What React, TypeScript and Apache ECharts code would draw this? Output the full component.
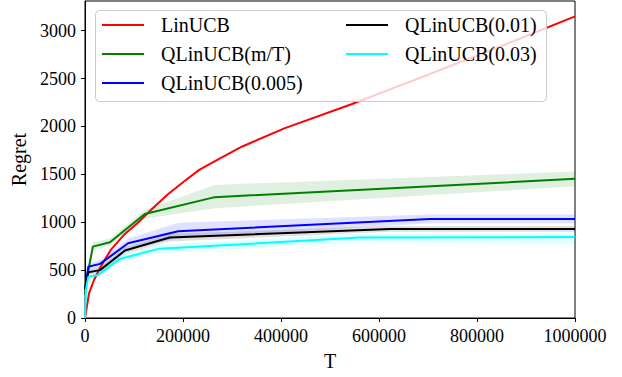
import React, { useEffect, useRef } from "react";
import * as echarts from "echarts";

const FONT = "Liberation Serif";

// LinUCB
const T_RED = [0, 1400, 8200, 18400, 32000, 52500, 79600, 106700, 134000, 168000, 202000, 233000, 270000, 321000, 408000, 541000, 700000, 850000, 1000000];
const LINUCB = [0, 40, 258, 397, 536, 711, 868, 990, 1125, 1286, 1425, 1547, 1652, 1791, 1983, 2227, 2540, 2840, 3150];

// QLinUCB(m/T)
const T_GREEN = [0, 4000, 16000, 51000, 122000, 265000, 1000000];
const QL_MT = [250, 420, 745, 790, 1085, 1262, 1453];
const QL_MT_LO = [230, 390, 710, 755, 1040, 1147, 1375];
const QL_MT_HI = [270, 460, 790, 830, 1130, 1390, 1530];

// QLinUCB(0.005)
const T_BLUE = [0, 6700, 30600, 88000, 190000, 704000, 1000000];
const QL_005 = [300, 536, 565, 780, 905, 1035, 1035];
const QL_005_LO = [280, 500, 525, 730, 830, 990, 990];
const QL_005_HI = [320, 570, 605, 830, 995, 1080, 1080];

// QLinUCB(0.01)
const T_BLACK = [0, 6700, 30600, 81600, 173000, 622000, 1000000];
const QL_01 = [300, 477, 500, 704, 840, 930, 930];
const QL_01_LO = [280, 450, 470, 670, 800, 900, 900];
const QL_01_HI = [320, 505, 530, 740, 880, 960, 960];

// QLinUCB(0.03)
const T_CYAN = [0, 2000, 6700, 27000, 71000, 150000, 561000, 1000000];
const QL_03 = [0, 300, 432, 450, 617, 722, 840, 845];
const QL_03_LO = [0, 280, 400, 420, 580, 680, 790, 770];
const QL_03_HI = [0, 320, 460, 480, 655, 765, 880, 880];

const X_TICKS = [0, 200000, 400000, 600000, 800000, 1000000];
const Y_TICKS = [0, 500, 1000, 1500, 2000, 2500, 3000];

function pairs(xs: number[], ys: number[]) {
  return xs.map((x, i) => [x, ys[i]]);
}

function lineSeries(name: string, xs: number[], ys: number[], color: string, z: number) {
  return {
    name,
    type: "line",
    data: pairs(xs, ys),
    symbol: "none",
    lineStyle: { color, width: 2 },
    itemStyle: { color },
    z,
    silent: true,
  };
}

function bandSeries(xs: number[], lo: number[], hi: number[], color: string, z: number) {
  return {
    type: "custom",
    silent: true,
    z,
    clip: true,
    data: [[xs[0], lo[0]]],
    renderItem: (params: any, api: any) => {
      const pts: number[][] = [];
      for (let i = 0; i < xs.length; i++) pts.push(api.coord([xs[i], hi[i]]));
      for (let i = xs.length - 1; i >= 0; i--) pts.push(api.coord([xs[i], lo[i]]));
      return {
        type: "polygon",
        shape: { points: pts },
        style: { fill: color, opacity: 0.12 },
      };
    },
  };
}

export default function App() {
  const ref = useRef<HTMLDivElement>(null);
  useEffect(() => {
    const chart = echarts.init(ref.current!, null, { renderer: "svg" });
    const legendText = {
      fontFamily: FONT,
      fontSize: 20,
      color: "#000",
      lineHeight: 20,
      padding: [0, 0, 0, 12],
    };
    chart.setOption({
      animation: false,
      grid: {
        left: 85,
        right: 47,
        top: 1,
        bottom: 59,
        show: true,
        borderColor: "#000",
        borderWidth: 1,
        backgroundColor: "transparent",
      },
      xAxis: {
        type: "value",
        min: X_TICKS[0],
        max: X_TICKS[X_TICKS.length - 1],
        interval: X_TICKS[1] - X_TICKS[0],
        name: "T",
        nameLocation: "middle",
        nameGap: 33,
        nameTextStyle: { fontFamily: FONT, fontSize: 20, color: "#000" },
        axisLine: { show: true, lineStyle: { color: "#000", width: 1 } },
        axisTick: { show: true, length: 4, lineStyle: { color: "#000" } },
        splitLine: { show: false },
        axisLabel: {
          fontFamily: FONT,
          fontSize: 18,
          color: "#000",
          margin: 9,
          formatter: (v: number) => String(v),
        },
      },
      yAxis: {
        type: "value",
        min: Y_TICKS[0],
        max: 3310,
        interval: Y_TICKS[1] - Y_TICKS[0],
        name: "Regret",
        nameLocation: "middle",
        nameGap: 55,
        nameTextStyle: { fontFamily: FONT, fontSize: 20, color: "#000" },
        axisLine: { show: true, lineStyle: { color: "#000", width: 1 } },
        axisTick: { show: true, length: 4, lineStyle: { color: "#000" } },
        splitLine: { show: false },
        axisLabel: {
          fontFamily: FONT,
          fontSize: 18,
          color: "#000",
          margin: 9,
          showMaxLabel: false,
          formatter: (v: number) => String(v),
        },
      },
      legend: [
        {
          data: ["LinUCB", "QLinUCB(m/T)", "QLinUCB(0.005)"],
          orient: "vertical",
          left: 102,
          top: 15,
          padding: 0,
          itemGap: 9,
          itemWidth: 42,
          itemHeight: 2,
          icon: "rect",
          selectedMode: false,
          textStyle: legendText,
          z: 20,
        },
        {
          data: ["QLinUCB(0.01)", "QLinUCB(0.03)"],
          orient: "vertical",
          left: 346,
          top: 15,
          padding: 0,
          itemGap: 9,
          itemWidth: 42,
          itemHeight: 2,
          icon: "rect",
          selectedMode: false,
          textStyle: legendText,
          z: 20,
        },
      ],
      graphic: [
        {
          type: "rect",
          shape: { x: 95.5, y: 10.5, width: 451, height: 91, r: 4 },
          style: { fill: "rgba(255,255,255,0.8)", stroke: "#cccccc", lineWidth: 1 },
          z: 10,
          silent: true,
        },
      ],
      series: [
        bandSeries(T_GREEN, QL_MT_LO, QL_MT_HI, "#008000", 1),
        bandSeries(T_BLUE, QL_005_LO, QL_005_HI, "#0000ff", 1),
        bandSeries(T_BLACK, QL_01_LO, QL_01_HI, "#000000", 1),
        bandSeries(T_CYAN, QL_03_LO, QL_03_HI, "#00ffff", 1),
        lineSeries("LinUCB", T_RED, LINUCB, "#ff0000", 3),
        lineSeries("QLinUCB(m/T)", T_GREEN, QL_MT, "#008000", 4),
        lineSeries("QLinUCB(0.005)", T_BLUE, QL_005, "#0000ff", 5),
        lineSeries("QLinUCB(0.01)", T_BLACK, QL_01, "#000000", 6),
        lineSeries("QLinUCB(0.03)", T_CYAN, QL_03, "#00ffff", 7),
      ],
    });
    return () => chart.dispose();
  }, []);
  return (
    <div
      ref={ref}
      style={{ position: "fixed", left: 0, top: 0, width: 622, height: 377, background: "#fff" }}
    />
  );
}
